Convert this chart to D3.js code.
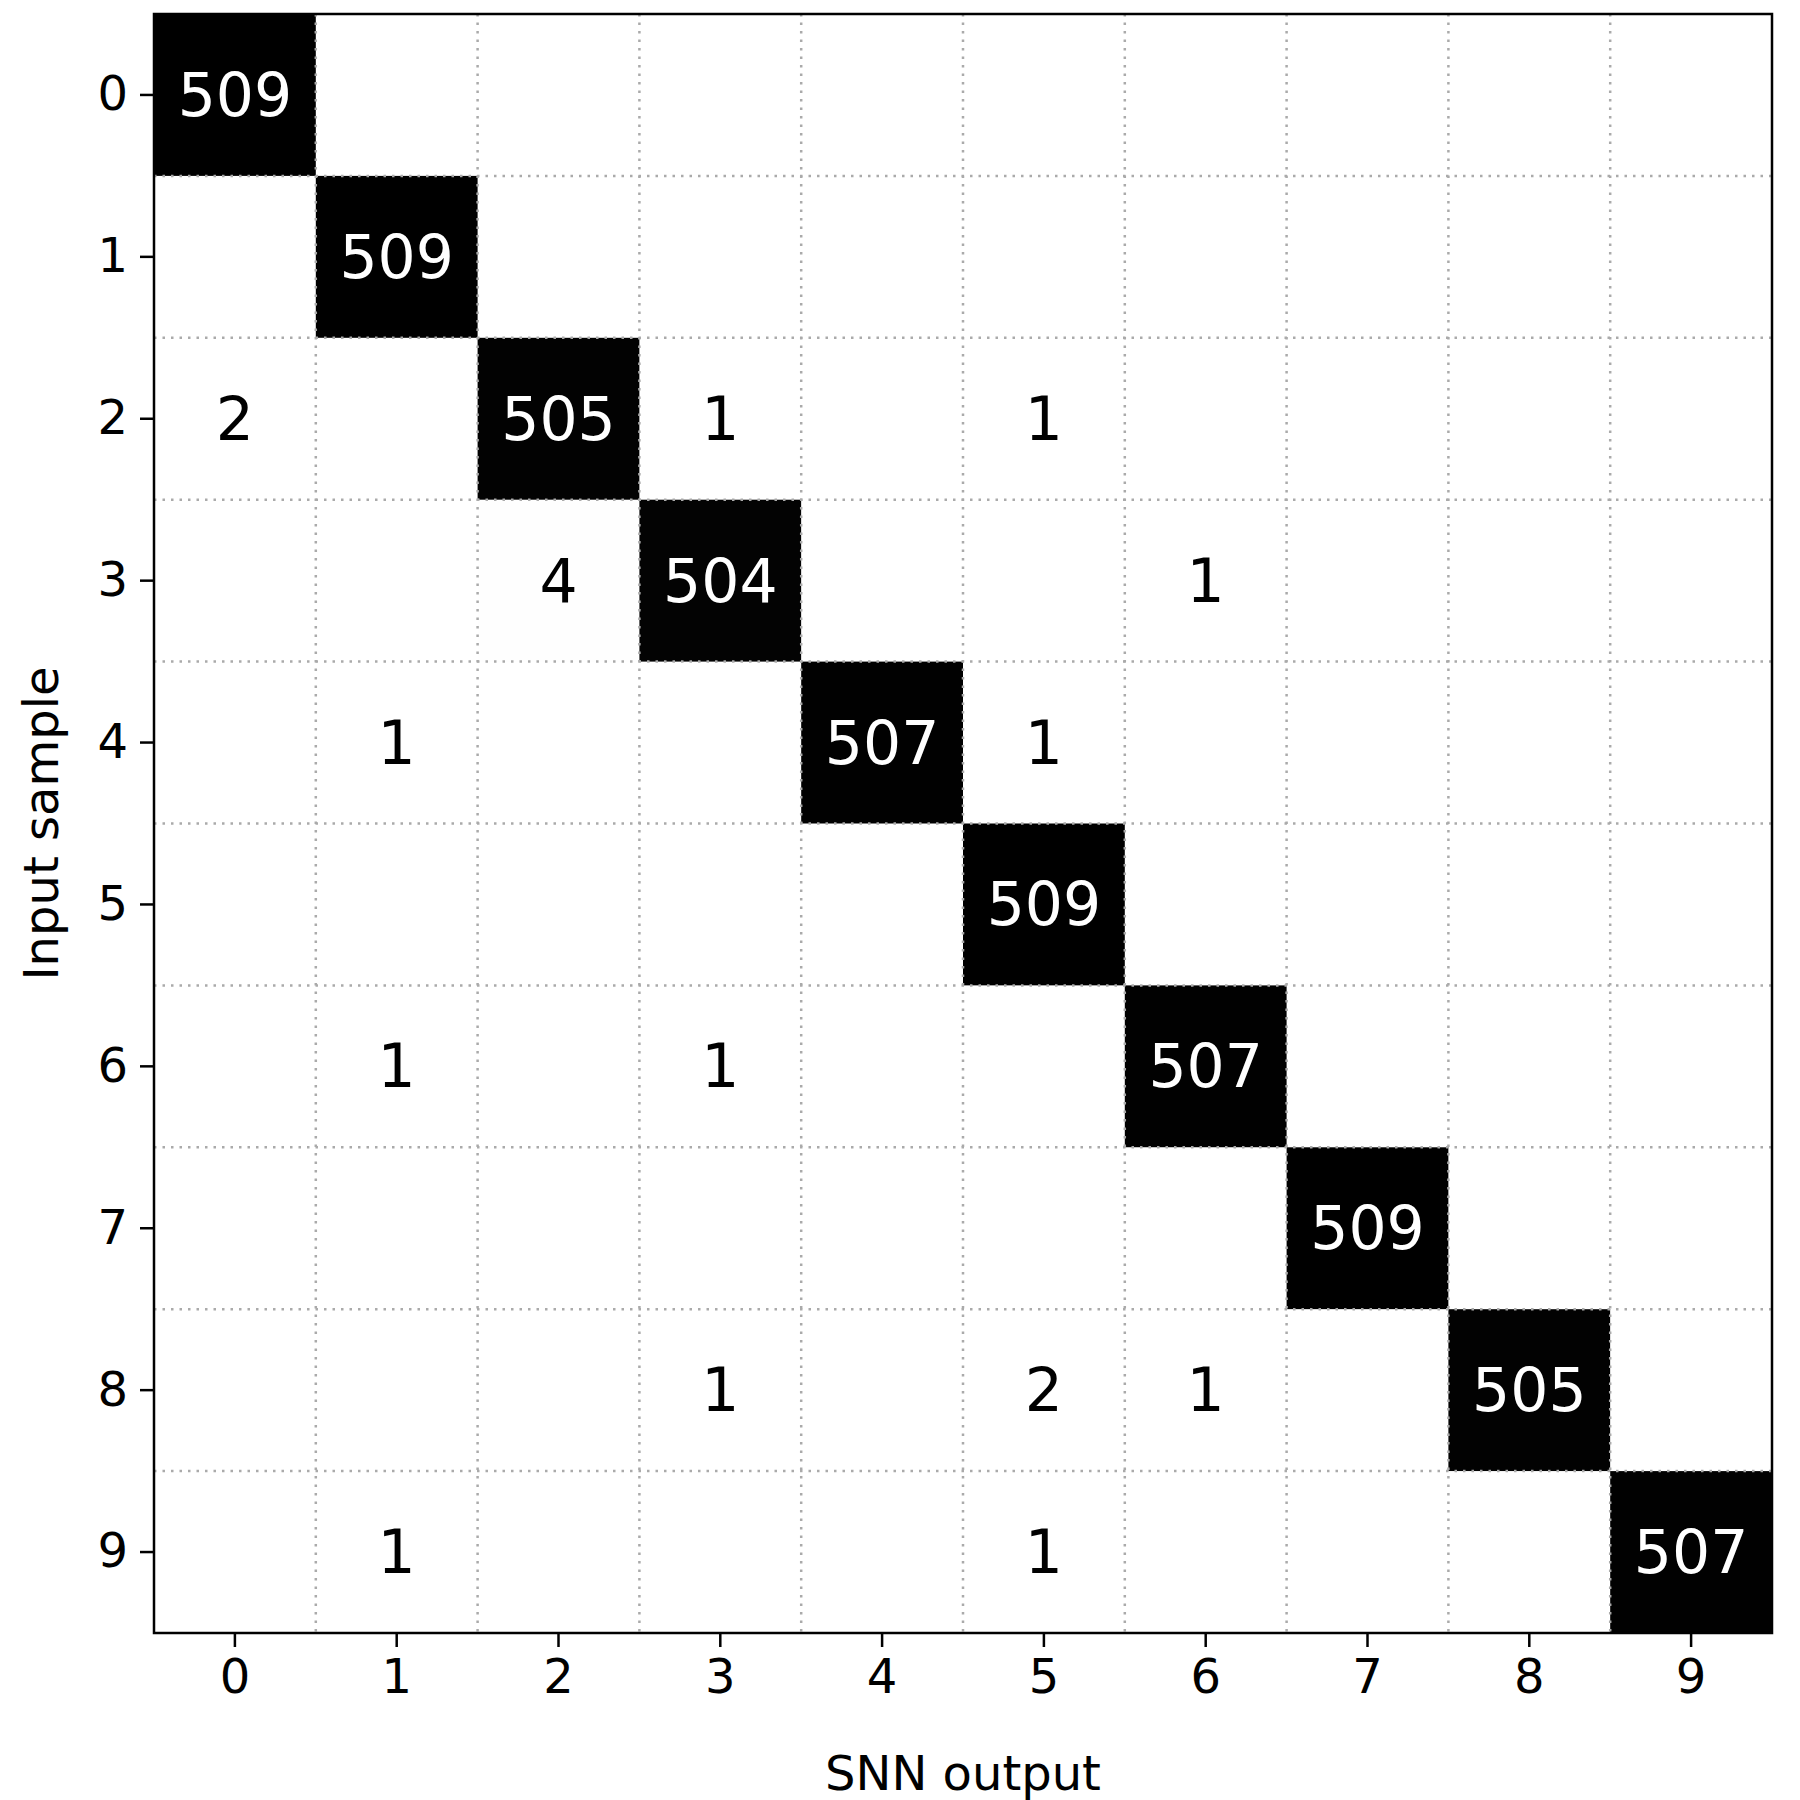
<!DOCTYPE html>
<html>
<head>
<meta charset="utf-8">
<script src="https://cdn.jsdelivr.net/npm/d3@7"></script>
<style>
  body { margin: 0; background: #fff; }
  text { font-family: "DejaVu Sans", sans-serif; }
</style>
</head>
<body>
<svg id="chart" width="1800" height="1800"></svg>
<script>
const labels = [0, 1, 2, 3, 4, 5, 6, 7, 8, 9];
// rows = input sample, cols = SNN output
const counts = [
  [509, 0, 0, 0, 0, 0, 0, 0, 0, 0],
  [0, 509, 0, 0, 0, 0, 0, 0, 0, 0],
  [2, 0, 505, 1, 0, 1, 0, 0, 0, 0],
  [0, 0, 4, 504, 0, 0, 1, 0, 0, 0],
  [0, 1, 0, 0, 507, 1, 0, 0, 0, 0],
  [0, 0, 0, 0, 0, 509, 0, 0, 0, 0],
  [0, 1, 0, 1, 0, 0, 507, 0, 0, 0],
  [0, 0, 0, 0, 0, 0, 0, 509, 0, 0],
  [0, 0, 0, 1, 0, 2, 1, 0, 505, 0],
  [0, 1, 0, 0, 0, 1, 0, 0, 0, 507]
];
const xTitle = "SNN output";
const yTitle = "Input sample";

const svg = d3.select("#chart");
const margin = { top: 14, left: 154, right: 28, bottom: 167 };
const width = 1800 - margin.left - margin.right;
const height = 1800 - margin.top - margin.bottom;

const g = svg.append("g").attr("transform", `translate(${margin.left},${margin.top})`);

const x = d3.scaleBand().domain(labels).range([0, width]);
const y = d3.scaleBand().domain(labels).range([0, height]);
const maxV = d3.max(counts.flat());
const color = v => d3.interpolateGreys(v / maxV);

const cells = counts.flatMap((row, i) => row.map((v, j) => ({ r: labels[i], c: labels[j], v })));

g.selectAll("rect.cell")
  .data(cells)
  .join("rect")
  .attr("x", d => x(d.c))
  .attr("y", d => y(d.r))
  .attr("width", x.bandwidth() + 0.5)
  .attr("height", y.bandwidth() + 0.5)
  .attr("fill", d => d.v === 0 ? "#fff" : color(d.v));

// dotted grid on cell borders
const bounds = d3.range(1, labels.length);
g.selectAll("line.vg").data(bounds).join("line")
  .attr("x1", d => d * x.step()).attr("x2", d => d * x.step())
  .attr("y1", 0).attr("y2", height)
  .attr("stroke", "#aaa").attr("stroke-width", 2.5).attr("stroke-dasharray", "2.5 6");
g.selectAll("line.hg").data(bounds).join("line")
  .attr("y1", d => d * y.step()).attr("y2", d => d * y.step())
  .attr("x1", 0).attr("x2", width)
  .attr("stroke", "#aaa").attr("stroke-width", 2.5).attr("stroke-dasharray", "2.5 6");

g.selectAll("text.val")
  .data(cells.filter(d => d.v > 0))
  .join("text")
  .attr("x", d => x(d.c) + x.bandwidth() / 2)
  .attr("y", d => y(d.r) + y.bandwidth() / 2)
  .attr("text-anchor", "middle")
  .attr("dominant-baseline", "central")
  .attr("font-size", 60)
  .attr("fill", d => d.v > maxV / 2 ? "#fff" : "#000")
  .text(d => d.v);

const xAxis = g.append("g").attr("transform", `translate(0,${height})`)
  .call(d3.axisBottom(x).tickSize(14).tickPadding(12));
const yAxis = g.append("g")
  .call(d3.axisLeft(y).tickSize(14).tickPadding(12));
[xAxis, yAxis].forEach(a => {
  a.select(".domain").remove();
  a.selectAll("line").attr("stroke", "#000").attr("stroke-width", 2.5);
  a.selectAll("text").attr("font-size", 48).attr("fill", "#000")
    .style("font-family", "DejaVu Sans");
});

g.append("rect").attr("width", width).attr("height", height)
  .attr("fill", "none").attr("stroke", "#000").attr("stroke-width", 2.5);

svg.append("text")
  .attr("x", margin.left + width / 2).attr("y", 1790)
  .attr("text-anchor", "middle").attr("font-size", 48)
  .text(xTitle);
svg.append("text")
  .attr("transform", `translate(58,${margin.top + height / 2}) rotate(-90)`)
  .attr("text-anchor", "middle").attr("font-size", 48)
  .text(yTitle);
</script>
</body>
</html>
